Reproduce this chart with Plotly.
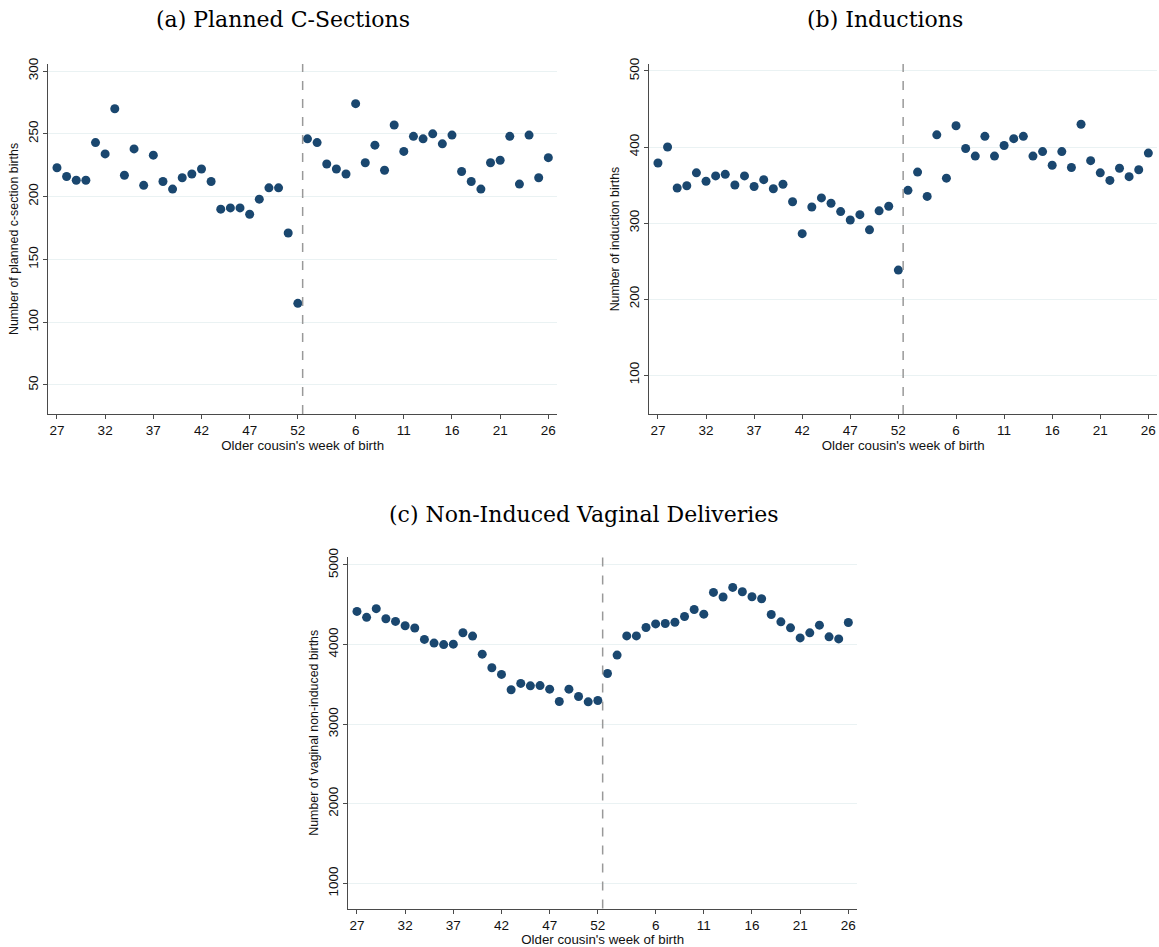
import plotly.graph_objects as go

weeks = list(range(27, 53)) + list(range(1, 27))
tick_idx = [0, 5, 10, 15, 20, 25, 31, 36, 41, 46, 51]
tick_labels = ["27", "32", "37", "42", "47", "52", "6", "11", "16", "21", "26"]

csec = [223, 216, 213, 213, 243, 234, 270, 217, 238, 209, 233, 212, 206, 215, 218, 222, 212,
        190, 191, 191, 186, 198, 207, 207, 171, 115,
        246, 243, 226, 222, 218, 274, 227, 241, 221, 257, 236, 248, 246, 250, 242, 249,
        220, 212, 206, 227, 229, 248, 210, 249, 215, 231]
induc = [379, 400, 346, 349, 366, 355, 362, 364, 350, 362, 348, 357, 345, 351, 328, 286, 321,
         333, 326, 315, 304, 311, 291, 316, 322, 238,
         343, 367, 335, 416, 359, 428, 398, 388, 414, 388, 402, 411, 414, 388, 394, 376,
         394, 373, 430, 382, 366, 356, 372, 361, 370, 392]
vagin = [4417, 4342, 4451, 4325, 4291, 4237, 4208, 4065, 4019, 4000, 4005, 4149, 4107, 3880,
         3709, 3625, 3432, 3512, 3482, 3485, 3440, 3285, 3440, 3348, 3281, 3298,
         3637, 3868, 4109, 4109, 4214, 4260, 4265, 4281, 4353, 4441, 4382, 4655, 4597, 4718,
         4664, 4601, 4576, 4378, 4286, 4210, 4084, 4147, 4244, 4097, 4071, 4277]

W, H = 1159, 947
x = list(range(len(weeks)))
cut = 25.5
axis_col = "#4a4a4a"
txt_col = "#111111"
sans = "Liberation Sans, Arial"

panels = [
    dict(y=csec, xd=(48.3, 557), yd=(64, 414), yr=(26.9, 305.6), yt=[50, 100, 150, 200, 250, 300],
         ytitle="Number of planned c-section births", title="(a) Planned C-Sections", tx=283, ty=19),
    dict(y=induc, xd=(649.3, 1157), yd=(64, 414), yr=(48.7, 509.2), yt=[100, 200, 300, 400, 500],
         ytitle="Number of induction births", title="(b) Inductions", tx=885, ty=19),
    dict(y=vagin, xd=(348.3, 857), yd=(557, 908.5), yr=(685, 5100), yt=[1000, 2000, 3000, 4000, 5000],
         ytitle="Number of vaginal non-induced births", title="(c) Non-Induced Vaginal Deliveries", tx=584, ty=514),
]

fig = go.Figure()
annotations = []
shapes = []
for i, p in enumerate(panels):
    sfx = "" if i == 0 else str(i + 1)
    xa, ya = "xaxis" + sfx, "yaxis" + sfx
    fig.add_trace(go.Scatter(x=x, y=p["y"], mode="markers", xaxis="x" + sfx, yaxis="y" + sfx,
                             marker=dict(color="#1a476f", size=9), showlegend=False,
                             customdata=weeks, hovertemplate="Week %{customdata}: %{y}<extra></extra>"))
    fig.layout[xa] = dict(domain=[p["xd"][0] / W, p["xd"][1] / W], range=[-0.9, 51.9],
                          anchor="y" + sfx, tickmode="array", tickvals=tick_idx, ticktext=tick_labels,
                          showgrid=False, zeroline=False, showline=True, linecolor=axis_col, linewidth=1.2,
                          ticks="outside", ticklen=4, tickcolor=axis_col,
                          tickfont=dict(family=sans, size=13.5, color=txt_col),
                          title=dict(text="Older cousin's week of birth", standoff=1,
                                     font=dict(family=sans, size=13.3, color=txt_col)),
                          automargin=False, fixedrange=True)
    fig.layout[ya] = dict(domain=[1 - p["yd"][1] / H, 1 - p["yd"][0] / H], range=list(p["yr"]),
                          anchor="x" + sfx, tickmode="array", tickvals=p["yt"], tickangle=-90,
                          showgrid=True, gridcolor="#eaf2f3", gridwidth=1, zeroline=False,
                          showline=True, linecolor=axis_col, linewidth=1.2,
                          ticks="outside", ticklen=4, tickcolor=axis_col,
                          tickfont=dict(family=sans, size=13.5, color=txt_col),
                          title=dict(text=p["ytitle"], standoff=4,
                                     font=dict(family=sans, size=12.4, color=txt_col)),
                          automargin=False, fixedrange=True)
    shapes.append(dict(type="line", xref="x" + sfx, yref="y" + sfx + " domain", x0=cut, x1=cut, y0=0, y1=1,
                       line=dict(color="#999999", width=1.5, dash="dash")))
    annotations.append(dict(text=p["title"], x=p["tx"] / W, y=1 - p["ty"] / H, xref="paper", yref="paper",
                            xanchor="center", yanchor="middle", showarrow=False,
                            font=dict(family="DejaVu Serif, Liberation Serif, serif", size=22, color="#000000")))

fig.update_layout(width=W, height=H, margin=dict(l=0, r=0, t=0, b=0),
                  paper_bgcolor="white", plot_bgcolor="white",
                  shapes=shapes, annotations=annotations)
fig.write_html("out.html")
